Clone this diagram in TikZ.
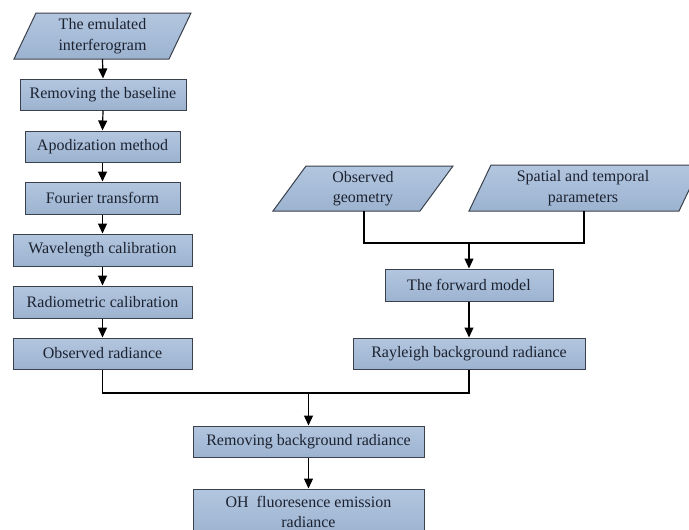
\documentclass[tikz,border=0pt]{standalone}
\usepackage{fontspec}
\setmainfont{Liberation Serif}
\usetikzlibrary{arrows.meta}
\definecolor{btop}{HTML}{B3C6DF}
\definecolor{bmid}{HTML}{C6D5E8}
\definecolor{bbot}{HTML}{9CB3D0}
\definecolor{bedge}{HTML}{3A404C}
\definecolor{btext}{HTML}{1C2230}
\tikzset{
  procbox/.style={draw=bedge, line width=1pt, top color=btop, middle color=bmid, bottom color=bbot,
    text=btext, font=\fontsize{16}{20}\selectfont, inner sep=0pt, minimum height=31pt, align=center},
  iotext/.style={text=btext, font=\fontsize{16}{20.5}\selectfont, inner sep=0pt, align=center},
  ioshape/.style={draw=bedge, line width=1pt, top color=btop, middle color=bmid, bottom color=bbot},
  conn/.style={draw=black, line width=1.2pt},
  arr/.style={conn, -{Triangle[width=9pt,length=10pt]}}
}
\begin{document}
\begin{tikzpicture}[x=1pt,y=-1pt]
\clip (0,0) rectangle (689,530);
\useasboundingbox (0,0) rectangle (689,530);
\fill[white] (0,0) rectangle (689,530);
% parallelograms
\path[ioshape] (14,59) -- (169,59) -- (191,13) -- (36,13) -- cycle;
\node[iotext] (emu) at (102.5,36) {The emulated\\interferogram};
\coordinate (emub) at (102.5,59);
\path[ioshape] (273,211) -- (420,211) -- (453,166) -- (306,166) -- cycle;
\node[iotext] (geo) at (363,188.5) {Observed\\geometry};
\coordinate (geob) at (364,211);
\path[ioshape] (469,211) -- (679,211) -- (701,165) -- (491,165) -- cycle;
\node[iotext] (spt) at (583,188) {Spatial and temporal\\parameters};
\coordinate (sptb) at (584,211);
% left column
\node[procbox, minimum width=166pt] (base) at (103,94.5) {Removing the baseline};
\node[procbox, minimum width=155pt] (apod) at (102.5,146.5) {Apodization method};
\node[procbox, minimum width=155pt, minimum height=32pt] (four) at (102.5,198) {Fourier transform};
\node[procbox, minimum width=179pt, minimum height=32pt] (wave) at (102.5,250) {Wavelength calibration};
\node[procbox, minimum width=179pt, minimum height=32pt] (radio) at (102.5,302) {Radiometric calibration};
\node[procbox, minimum width=179pt] (obs) at (102.5,353.5) {Observed radiance};
% right column
\node[procbox, minimum width=168pt, minimum height=32pt] (fwd) at (469,285) {The forward model};
\node[procbox, minimum width=232pt] (ray) at (469,353.5) {Rayleigh background radiance};
% bottom
\node[procbox, minimum width=231pt] (rmbg) at (308.5,441.5) {Removing background radiance};
\node[procbox, minimum width=231pt, minimum height=46pt] (oh) at (308.5,512) {OH~ fluoresence emission\\radiance};
% connectors
\draw[arr] (emub) -- (base.north);
\draw[arr] (base.south) -- (apod.north);
\draw[arr] (apod.south) -- (four.north);
\draw[arr] (four.south) -- (wave.north);
\draw[arr] (wave.south) -- (radio.north);
\draw[arr] (radio.south) -- (obs.north);
\coordinate (jt) at (469,243);
\draw[conn] (geob) |- (jt) -| (sptb);
\draw[arr] (jt) -- (fwd.north);
\draw[arr] (fwd.south) -- (ray.north);
\coordinate (jb) at (308.5,393);
\draw[conn] (obs.south) |- (jb) -| (ray.south);
\draw[arr] (jb) -- (rmbg.north);
\draw[arr] (rmbg.south) -- (oh.north);
\end{tikzpicture}
\end{document}
